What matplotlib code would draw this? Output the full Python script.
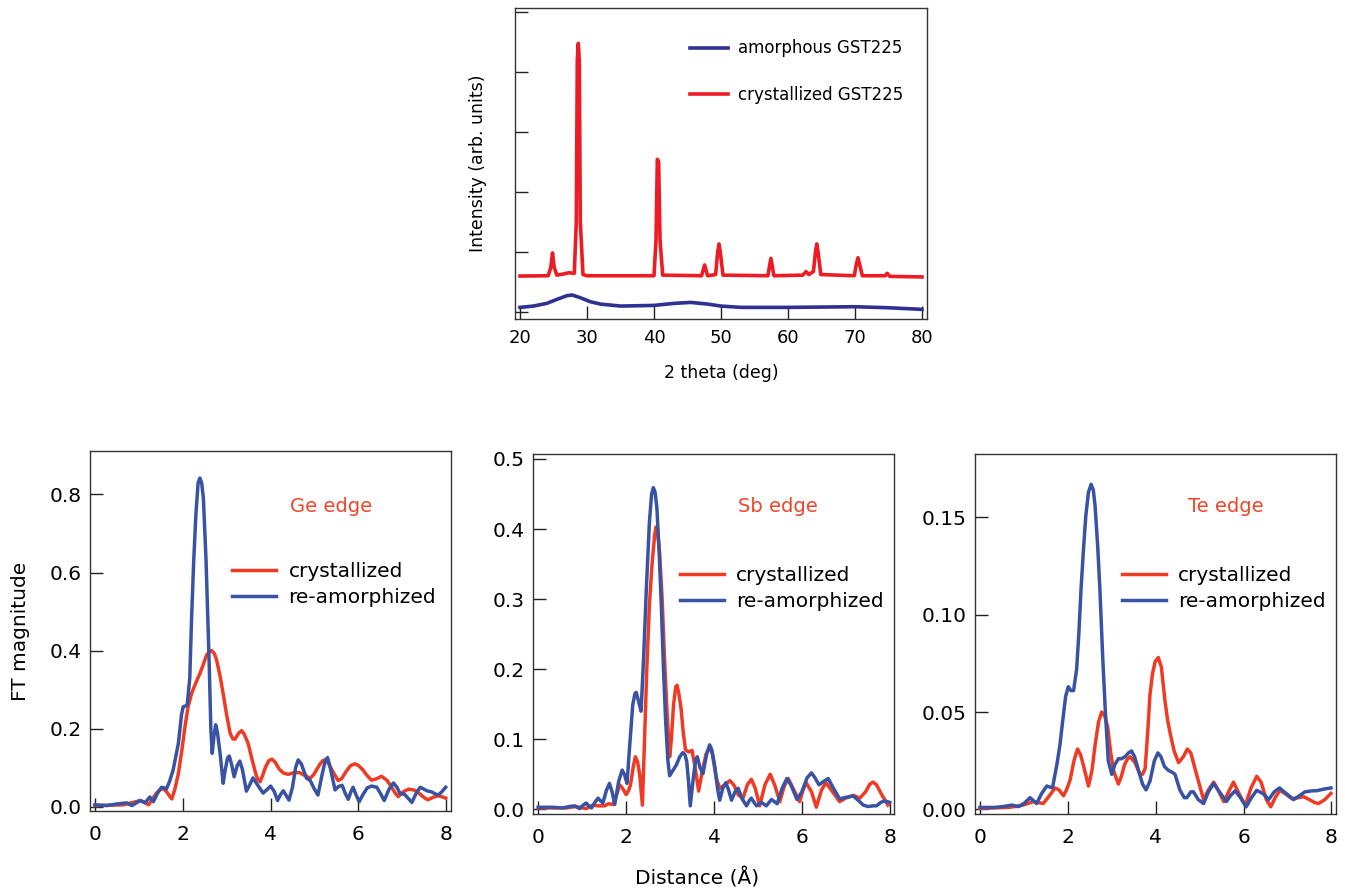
import numpy as np
import matplotlib
matplotlib.use('Agg')
import matplotlib.pyplot as plt

plt.rcParams['font.family'] = ['DejaVu Sans']

# ---- XRD (top panel) ----
xrd_amor_x = [20, 22, 24, 25.5, 27, 27.8, 29, 30.5, 32, 35, 40, 43, 45.5, 48, 50, 53, 60, 70, 75, 80]
xrd_amor_y = [0.083, 0.105, 0.15, 0.216, 0.278, 0.289, 0.244, 0.177, 0.138, 0.105, 0.116, 0.15,
              0.166, 0.138, 0.105, 0.083, 0.083, 0.094, 0.077, 0.05]

xrd_cryst_x = [20.0, 24.2, 24.6, 24.85, 25.1, 25.5, 26.5, 27.3, 28.1, 28.4, 28.55, 28.7, 28.85, 29.0,
               29.4, 30.0, 40.0, 40.3, 40.5, 40.7, 40.9, 41.3, 47.1, 47.55, 48.0, 49.2, 49.5, 49.7,
               49.9, 50.3, 57.0, 57.45, 57.9, 62.2, 62.7, 63.1, 63.8, 64.1, 64.3, 64.5, 64.9, 69.9,
               70.2, 70.45, 70.7, 71.1, 74.5, 74.8, 75.2, 80.0]
xrd_cryst_y = [0.605, 0.61, 0.75, 0.99, 0.75, 0.62, 0.64, 0.66, 0.65, 1.5, 4.2, 4.48, 4.2, 1.5,
               0.63, 0.61, 0.61, 1.2, 2.55, 2.5, 1.2, 0.62, 0.61, 0.79, 0.61, 0.63, 1.0, 1.14,
               1.0, 0.62, 0.61, 0.90, 0.61, 0.62, 0.68, 0.63, 0.68, 1.0, 1.14, 1.0, 0.63, 0.61,
               0.80, 0.91, 0.80, 0.61, 0.61, 0.65, 0.60, 0.59]

# ---- EXAFS FT, Ge edge ----
ge_amor_x = [0.0, 0.27, 0.49, 0.72, 0.84, 1.03, 1.14, 1.25, 1.33, 1.45, 1.52, 1.58, 1.63, 1.70,
             1.78, 1.90, 1.97, 2.01, 2.10, 2.16, 2.20, 2.25, 2.30, 2.35, 2.39, 2.43, 2.47, 2.53,
             2.60, 2.64, 2.67, 2.71, 2.75, 2.79, 2.85, 2.92, 2.96, 3.02, 3.06, 3.11, 3.17, 3.24,
             3.30, 3.36, 3.45, 3.52, 3.60, 3.68, 3.83, 3.93, 4.0, 4.08, 4.16, 4.22, 4.29, 4.35,
             4.42, 4.50, 4.57, 4.63, 4.70, 4.82, 4.90, 5.0, 5.08, 5.17, 5.25, 5.30, 5.36, 5.47,
             5.55, 5.63, 5.70, 5.77, 5.83, 5.88, 5.95, 6.02, 6.1, 6.2, 6.30, 6.42, 6.5, 6.59, 6.7,
             6.80, 6.88, 6.95, 7.05, 7.15, 7.22, 7.32, 7.41, 7.48, 7.56, 7.67, 7.75, 7.82, 7.9, 7.99]
ge_amor_y = [0.005, 0.003, 0.007, 0.01, 0.003, 0.016, 0.01, 0.025, 0.013, 0.04, 0.05, 0.048, 0.046,
             0.065, 0.094, 0.162, 0.235, 0.256, 0.26, 0.33, 0.48, 0.632, 0.75, 0.83, 0.842, 0.83,
             0.79, 0.632, 0.376, 0.2, 0.137, 0.18, 0.21, 0.19, 0.137, 0.06, 0.09, 0.125, 0.13,
             0.11, 0.077, 0.105, 0.117, 0.095, 0.04, 0.055, 0.074, 0.06, 0.035, 0.045, 0.053, 0.04,
             0.016, 0.03, 0.041, 0.03, 0.017, 0.05, 0.1, 0.12, 0.11, 0.073, 0.068, 0.045, 0.03,
             0.08, 0.12, 0.126, 0.1, 0.043, 0.052, 0.055, 0.035, 0.019, 0.038, 0.05, 0.03, 0.013,
             0.03, 0.048, 0.053, 0.05, 0.035, 0.016, 0.045, 0.061, 0.05, 0.034, 0.032, 0.02, 0.011,
             0.035, 0.05, 0.046, 0.041, 0.038, 0.033, 0.03, 0.038, 0.05]
ge_cryst_x = [0.0, 0.65, 0.9, 1.03, 1.12, 1.22, 1.30, 1.40, 1.50, 1.56, 1.62, 1.75, 1.82, 1.90, 1.98,
              2.05, 2.12, 2.20, 2.30, 2.39, 2.47, 2.54, 2.60, 2.66, 2.72, 2.77, 2.85, 2.92, 3.0,
              3.08, 3.14, 3.19, 3.27, 3.34, 3.40, 3.49, 3.57, 3.65, 3.70, 3.76, 3.82, 3.88, 3.96,
              4.03, 4.10, 4.2, 4.3, 4.4, 4.52, 4.65, 4.78, 4.9, 4.98, 5.05, 5.13, 5.2, 5.3, 5.42,
              5.54, 5.62, 5.72, 5.82, 5.92, 6.0, 6.1, 6.2, 6.3, 6.42, 6.53, 6.65, 6.76, 6.84, 6.91,
              7.02, 7.14, 7.22, 7.29, 7.38, 7.45, 7.52, 7.59, 7.70, 7.82, 7.9, 7.99]
ge_cryst_y = [0.003, 0.005, 0.012, 0.016, 0.012, 0.005, 0.018, 0.035, 0.045, 0.046, 0.04, 0.02,
              0.045, 0.085, 0.145, 0.205, 0.255, 0.29, 0.318, 0.341, 0.365, 0.388, 0.397, 0.4,
              0.392, 0.376, 0.335, 0.29, 0.235, 0.188, 0.174, 0.173, 0.188, 0.195, 0.186, 0.162,
              0.125, 0.09, 0.072, 0.064, 0.08, 0.1, 0.118, 0.122, 0.115, 0.096, 0.086, 0.083,
              0.087, 0.088, 0.08, 0.073, 0.082, 0.095, 0.11, 0.119, 0.115, 0.09, 0.067, 0.072,
              0.09, 0.105, 0.11, 0.106, 0.095, 0.08, 0.068, 0.072, 0.078, 0.068, 0.05, 0.035,
              0.026, 0.038, 0.045, 0.044, 0.042, 0.035, 0.028, 0.022, 0.018, 0.024, 0.028, 0.026,
              0.022]

# ---- Sb edge ----
sb_amor_x = [0.0, 0.3, 0.56, 0.7, 0.83, 0.94, 1.02, 1.09, 1.15, 1.21, 1.29, 1.36, 1.42, 1.47, 1.55,
             1.62, 1.68, 1.74, 1.83, 1.91, 1.96, 2.02, 2.08, 2.15, 2.20, 2.23, 2.28, 2.34, 2.40,
             2.46, 2.53, 2.58, 2.62, 2.66, 2.70, 2.75, 2.80, 2.85, 2.90, 2.95, 2.99, 3.06, 3.14,
             3.22, 3.29, 3.34, 3.38, 3.42, 3.46, 3.52, 3.58, 3.62, 3.68, 3.75, 3.83, 3.90, 3.95,
             4.02, 4.08, 4.13, 4.2, 4.27, 4.33, 4.40, 4.48, 4.55, 4.64, 4.74, 4.80, 4.85, 4.91,
             4.97, 5.08, 5.19, 5.31, 5.44, 5.55, 5.66, 5.75, 5.89, 6.0, 6.12, 6.22, 6.30, 6.39,
             6.50, 6.60, 6.72, 6.86, 7.0, 7.17, 7.3, 7.40, 7.51, 7.62, 7.70, 7.80, 7.89, 8.0]
sb_amor_y = [0.003, 0.003, 0.002, 0.004, 0.005, 0.001, 0.006, 0.009, 0.005, 0.002, 0.01, 0.016,
             0.012, 0.009, 0.027, 0.037, 0.025, 0.007, 0.04, 0.056, 0.05, 0.037, 0.09, 0.149,
             0.165, 0.167, 0.155, 0.14, 0.22, 0.315, 0.41, 0.45, 0.459, 0.452, 0.43, 0.37, 0.292,
             0.2, 0.125, 0.07, 0.048, 0.055, 0.063, 0.075, 0.081, 0.078, 0.068, 0.04, 0.005, 0.04,
             0.07, 0.075, 0.06, 0.051, 0.078, 0.092, 0.085, 0.061, 0.03, 0.013, 0.03, 0.038, 0.028,
             0.013, 0.025, 0.03, 0.015, 0.005, 0.012, 0.016, 0.01, 0.005, 0.01, 0.005, 0.014,
             0.008, 0.03, 0.044, 0.035, 0.014, 0.025, 0.045, 0.052, 0.045, 0.035, 0.04, 0.044,
             0.03, 0.015, 0.017, 0.019, 0.012, 0.006, 0.004, 0.005, 0.005, 0.01, 0.012, 0.01]
sb_cryst_x = [0.0, 0.64, 0.85, 1.09, 1.24, 1.35, 1.51, 1.60, 1.70, 1.78, 1.85, 1.92, 2.0, 2.05, 2.10,
              2.16, 2.21, 2.26, 2.31, 2.37, 2.42, 2.47, 2.53, 2.59, 2.65, 2.68, 2.72, 2.76, 2.82,
              2.87, 2.93, 2.99, 3.03, 3.08, 3.13, 3.16, 3.20, 3.25, 3.30, 3.35, 3.42, 3.50, 3.57,
              3.65, 3.72, 3.82, 3.90, 3.96, 4.05, 4.13, 4.25, 4.36, 4.45, 4.56, 4.66, 4.76, 4.85,
              4.94, 5.04, 5.16, 5.28, 5.38, 5.50, 5.60, 5.69, 5.80, 5.95, 6.03, 6.10, 6.22, 6.33,
              6.45, 6.55, 6.70, 6.86, 7.0, 7.17, 7.32, 7.45, 7.55, 7.62, 7.70, 7.81, 7.96]
sb_cryst_y = [0.002, 0.002, 0.004, 0.001, 0.006, 0.005, 0.005, 0.008, 0.007, 0.02, 0.035, 0.03,
              0.021, 0.026, 0.035, 0.06, 0.075, 0.068, 0.049, 0.006, 0.102, 0.2, 0.292, 0.35,
              0.392, 0.403, 0.392, 0.368, 0.3, 0.22, 0.14, 0.075, 0.1, 0.15, 0.175, 0.177, 0.165,
              0.144, 0.11, 0.085, 0.082, 0.084, 0.06, 0.026, 0.05, 0.079, 0.088, 0.08, 0.045, 0.03,
              0.035, 0.041, 0.035, 0.02, 0.016, 0.035, 0.043, 0.03, 0.005, 0.035, 0.05, 0.035,
              0.011, 0.033, 0.044, 0.03, 0.011, 0.028, 0.038, 0.025, 0.003, 0.028, 0.038, 0.025,
              0.011, 0.016, 0.02, 0.016, 0.025, 0.036, 0.039, 0.035, 0.022, 0.006]

# ---- Te edge ----
te_amor_x = [0.0, 0.34, 0.55, 0.72, 0.87, 1.0, 1.14, 1.29, 1.40, 1.52, 1.65, 1.75, 1.82, 1.88, 1.95,
             2.01, 2.07, 2.13, 2.20, 2.25, 2.30, 2.36, 2.41, 2.47, 2.53, 2.58, 2.62, 2.68, 2.73,
             2.79, 2.85, 2.92, 3.0, 3.07, 3.15, 3.22, 3.30, 3.38, 3.45, 3.52, 3.61, 3.70, 3.78,
             3.87, 3.97, 4.05, 4.12, 4.20, 4.29, 4.38, 4.44, 4.55, 4.65, 4.71, 4.80, 4.86, 4.97,
             5.09, 5.2, 5.32, 5.45, 5.61, 5.70, 5.81, 5.93, 6.06, 6.18, 6.30, 6.45, 6.57, 6.70,
             6.82, 6.98, 7.14, 7.27, 7.40, 7.55, 7.67, 7.85, 7.99]
te_amor_y = [0.001, 0.001, 0.0015, 0.0022, 0.0014, 0.003, 0.006, 0.003, 0.008, 0.012, 0.011,
             0.023, 0.033, 0.045, 0.058, 0.063, 0.061, 0.061, 0.072, 0.09, 0.113, 0.135, 0.151,
             0.163, 0.167, 0.164, 0.156, 0.135, 0.113, 0.08, 0.052, 0.025, 0.018, 0.023, 0.026,
             0.026, 0.027, 0.029, 0.03, 0.027, 0.02, 0.013, 0.01, 0.0145, 0.025, 0.029, 0.027,
             0.022, 0.02, 0.019, 0.018, 0.01, 0.006, 0.006, 0.009, 0.009, 0.005, 0.003, 0.009,
             0.0133, 0.009, 0.004, 0.007, 0.0095, 0.006, 0.0013, 0.006, 0.0098, 0.008, 0.005,
             0.009, 0.011, 0.008, 0.005, 0.007, 0.009, 0.0095, 0.0096, 0.0105, 0.011]
te_cryst_x = [0.0, 0.65, 0.95, 1.22, 1.44, 1.58, 1.71, 1.80, 1.90, 1.97, 2.05, 2.14, 2.22, 2.29, 2.35,
              2.47, 2.55, 2.62, 2.70, 2.77, 2.84, 2.91, 2.97, 3.04, 3.15, 3.22, 3.29, 3.36, 3.42,
              3.53, 3.64, 3.70, 3.76, 3.82, 3.87, 3.93, 3.99, 4.06, 4.13, 4.21, 4.27, 4.33, 4.42,
              4.52, 4.63, 4.72, 4.80, 4.93, 5.09, 5.2, 5.32, 5.42, 5.55, 5.66, 5.77, 5.90, 6.04,
              6.17, 6.30, 6.40, 6.52, 6.62, 6.72, 6.83, 6.95, 7.10, 7.25, 7.37, 7.50, 7.62, 7.71,
              7.85, 7.99]
te_cryst_y = [0.0005, 0.001, 0.002, 0.004, 0.003, 0.007, 0.011, 0.01, 0.007, 0.01, 0.015, 0.025,
              0.031, 0.028, 0.023, 0.012, 0.02, 0.033, 0.045, 0.05, 0.048, 0.042, 0.03, 0.02,
              0.013, 0.017, 0.023, 0.026, 0.027, 0.024, 0.018, 0.018, 0.021, 0.04, 0.059, 0.07,
              0.076, 0.078, 0.073, 0.056, 0.046, 0.039, 0.03, 0.024, 0.027, 0.031, 0.029, 0.018,
              0.005, 0.01, 0.014, 0.01, 0.004, 0.009, 0.014, 0.008, 0.002, 0.011, 0.017, 0.014,
              0.005, 0.0013, 0.006, 0.0098, 0.008, 0.0055, 0.006, 0.0065, 0.005, 0.0035, 0.003,
              0.005, 0.0082]

red_top, blue_top = '#ed1c24', '#2e3192'
red, blue = '#ef3b24', '#3953a4'
edge_col = '#f0452c'
spine_col = '#333333'


def style_axes(ax, fs):
    for s in ax.spines.values():
        s.set_color(spine_col)
        s.set_linewidth(1.0)
    ax.tick_params(direction='in', length=9.5, width=1.0, color='#222222', labelsize=fs,
                   top=False, right=False)


fig = plt.figure(figsize=(13.45, 8.92), dpi=100)

# top: XRD
ax0 = fig.add_axes([0.3829, 0.6424, 0.3063, 0.3487])
ax0.plot(xrd_amor_x, xrd_amor_y, color=blue_top, lw=2.6, label='amorphous GST225')
ax0.plot(xrd_cryst_x, xrd_cryst_y, color=red_top, lw=2.6, label='crystallized GST225')
ax0.set_xlim(19.25, 80.75)
ax0.set_ylim(-0.11, 5.07)
ax0.set_xticks(np.arange(20, 81, 10))
ax0.set_yticks(np.arange(0, 6, 1))
ax0.set_yticklabels([])
style_axes(ax0, 13)
ax0.tick_params(axis='x', pad=7)
ax0.set_xlabel('2 theta (deg)', fontsize=12.5)
ax0.xaxis.set_label_coords(0.5, -0.145)
ax0.set_ylabel('Intensity (arb. units)', fontsize=12.5)
ax0.yaxis.set_label_coords(-0.068, 0.5)
ax0.legend(loc='upper left', bbox_to_anchor=(0.4248, 0.899), frameon=False, fontsize=12,
           handlelength=2.3, handletextpad=0.6, labelspacing=1.7, borderpad=0, borderaxespad=0)

panels = [
    ('Ge edge', ge_cryst_x, ge_cryst_y, ge_amor_x, ge_amor_y, [0.0669, 0.0911, 0.2682, 0.4032],
     (-0.0102, 0.911), np.arange(0, 0.81, 0.2), '{:.1f}', (0.394, 0.692), (0.668, 0.845)),
    ('Sb edge', sb_cryst_x, sb_cryst_y, sb_amor_x, sb_amor_y, [0.3965, 0.0874, 0.2684, 0.4033],
     (-0.0067, 0.5066), np.arange(0, 0.51, 0.1), '{:.1f}', (0.406, 0.69), (0.678, 0.854)),
    ('Te edge', te_cryst_x, te_cryst_y, te_amor_x, te_amor_y, [0.7249, 0.0874, 0.2684, 0.4033],
     (-0.0024, 0.1824), np.arange(0, 0.151, 0.05), '{:.2f}', (0.406, 0.69), (0.696, 0.854)),
]

axes = []
for name, cx, cy, ax_, ay, rect, ylim, yt, fmt, leg_pos, txt_pos in panels:
    ax = fig.add_axes(rect)
    ax.plot(cx, cy, color=red, lw=2.5, label='crystallized')
    ax.plot(ax_, ay, color=blue, lw=2.5, label='re-amorphized')
    ax.set_xlim(-0.114, 8.105)
    ax.set_ylim(*ylim)
    ax.set_xticks([0, 2, 4, 6, 8])
    ax.set_yticks(yt)
    ax.set_yticklabels([fmt.format(v) for v in yt])
    style_axes(ax, 14.5)
    ax.tick_params(axis='x', pad=10)
    ax.tick_params(axis='y', pad=6)
    ax.text(txt_pos[0], txt_pos[1], name, color=edge_col, fontsize=14, ha='center', va='center',
            transform=ax.transAxes)
    ax.legend(loc='upper left', bbox_to_anchor=leg_pos, frameon=False, fontsize=14.5,
              handlelength=2.2, handletextpad=0.6, labelspacing=0.35, borderpad=0,
              borderaxespad=0)
    axes.append(ax)

axes[0].set_ylabel('FT magnitude', fontsize=14.5)
axes[0].yaxis.set_label_coords(-0.165, 0.5)
fig.text(697 / 1345, 1 - 878 / 892, 'Distance (Å)', fontsize=14.5, ha='center', va='center')

fig.savefig('out.png', dpi=100)
